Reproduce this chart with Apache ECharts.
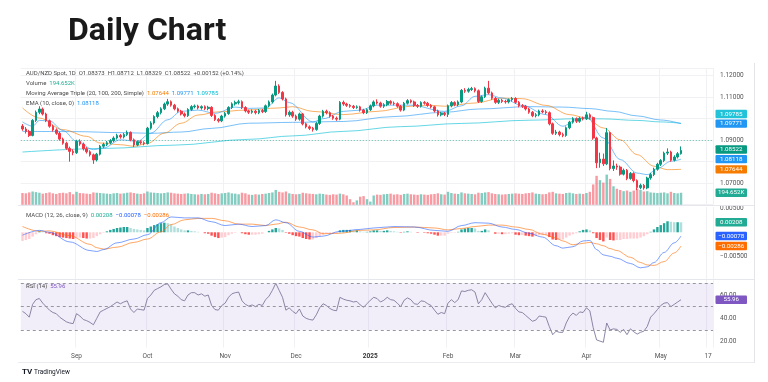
<!DOCTYPE html>
<html><head><meta charset="utf-8">
<script src="https://cdn.jsdelivr.net/npm/echarts@6/dist/echarts.min.js"></script>
<style>html,body{margin:0;padding:0;background:#fff;}#c{width:768px;height:382px;}</style>
</head><body><div id="c"></div>
<script>
// ---------------- DATA ----------------
const startDate = '2024-08-09';   // first daily candle
const slotCount = 205;            // trading-day slots incl. empty future space

const tickDates  = ['2024-09-02','2024-10-01','2024-11-01','2024-12-02','2025-01-01','2025-02-03','2025-03-03','2025-04-01','2025-05-01','2025-05-21'];
const tickLabels = ['Sep','Oct','Nov','Dec','2025','Feb','Mar','Apr','May','17'];
const priceTickLabels = [1.07, 1.09, 1.11, 1.12];
const macdTickLabels = [0.005, -0.005];
const rsiTickLabels = [20, 40, 60];

const openP = [
1.0966,1.0952,1.0940,1.0922,1.0992,1.1030,1.1045,1.1022,1.0990,1.0965,
1.0948,1.0932,1.0905,1.0886,1.0862,1.0848,1.0842,1.0895,1.0882,1.0860,
1.0846,1.0832,1.0808,1.0835,1.0872,1.0880,1.0888,1.0898,1.0910,1.0922,
1.0915,1.0926,1.0936,1.0902,1.0878,1.0893,1.0888,1.0884,1.0956,1.0980,
1.1010,1.1028,1.1046,1.1068,1.1079,1.1063,1.1046,1.1035,1.1022,1.1014,
1.1043,1.1056,1.1059,1.1050,1.1056,1.1047,1.1053,1.1015,1.0996,1.0990,
1.1012,1.1024,1.1052,1.1069,1.1075,1.1079,1.1052,1.1036,1.1030,1.1035,
1.1028,1.1038,1.1033,1.1060,1.1078,1.1110,1.1152,1.1122,1.1092,1.1018,
1.1030,1.1012,1.0998,1.1022,1.0976,1.0962,1.0955,1.0950,1.0978,1.1012,
1.1035,1.1028,1.1012,1.1002,1.0998,1.1076,1.1068,1.1062,1.1058,1.1052,
1.1055,1.1040,1.1028,1.1042,1.1060,1.1078,1.1073,1.1058,1.1065,1.1080,
1.1072,1.1070,1.1058,1.1040,1.1072,1.1084,1.1078,1.1062,1.1058,1.1075,
1.1072,1.1062,1.1055,1.1036,1.1018,1.1025,1.1020,1.1060,1.1075,1.1065,
1.1078,1.1132,1.1128,1.1136,1.1140,1.1130,1.1080,1.1102,1.1142,1.1120,
1.1095,1.1076,1.1086,1.1080,1.1078,1.1088,1.1094,1.1076,1.1060,1.1058,
1.1045,1.1030,1.1014,1.1018,1.1036,1.1032,1.1028,1.0976,1.0932,1.0938,
1.0926,1.0922,1.0958,1.0984,1.1000,1.0988,1.1002,1.1000,1.1018,1.1005,
1.0910,1.0795,1.0812,1.0790,1.0935,1.0768,1.0780,1.0775,1.0742,1.0760,
1.0722,1.0745,1.0712,1.0680,1.0690,1.0678,1.0724,1.0740,1.0765,1.0788,
1.0805,1.0840,1.0845,1.0807,1.0822,1.08373];
const closeP = [
1.0952,1.0940,1.0922,1.0992,1.1030,1.1045,1.1022,1.0990,1.0965,1.0948,
1.0932,1.0905,1.0886,1.0862,1.0848,1.0842,1.0895,1.0882,1.0860,1.0846,
1.0832,1.0808,1.0835,1.0872,1.0880,1.0888,1.0898,1.0910,1.0922,1.0915,
1.0926,1.0936,1.0902,1.0878,1.0893,1.0888,1.0884,1.0956,1.0980,1.1010,
1.1028,1.1046,1.1068,1.1079,1.1063,1.1046,1.1035,1.1022,1.1014,1.1043,
1.1056,1.1059,1.1050,1.1056,1.1047,1.1053,1.1015,1.0996,1.0990,1.1012,
1.1024,1.1052,1.1069,1.1075,1.1079,1.1052,1.1036,1.1030,1.1035,1.1028,
1.1038,1.1033,1.1060,1.1078,1.1110,1.1152,1.1122,1.1092,1.1018,1.1030,
1.1012,1.0998,1.1022,1.0976,1.0962,1.0955,1.0950,1.0978,1.1012,1.1035,
1.1028,1.1012,1.1002,1.0998,1.1076,1.1068,1.1062,1.1058,1.1052,1.1055,
1.1040,1.1028,1.1042,1.1060,1.1078,1.1073,1.1058,1.1065,1.1080,1.1072,
1.1070,1.1058,1.1040,1.1072,1.1084,1.1078,1.1062,1.1058,1.1075,1.1072,
1.1062,1.1055,1.1036,1.1018,1.1025,1.1020,1.1060,1.1075,1.1065,1.1078,
1.1132,1.1128,1.1136,1.1140,1.1130,1.1080,1.1102,1.1142,1.1120,1.1095,
1.1076,1.1086,1.1080,1.1078,1.1088,1.1094,1.1076,1.1060,1.1058,1.1045,
1.1030,1.1014,1.1018,1.1036,1.1032,1.1028,1.0976,1.0932,1.0938,1.0926,
1.0922,1.0958,1.0984,1.1000,1.0988,1.1002,1.1000,1.1018,1.1005,1.0910,
1.0795,1.0812,1.0790,1.0935,1.0768,1.0780,1.0775,1.0742,1.0760,1.0722,
1.0745,1.0712,1.0680,1.0690,1.0678,1.0724,1.0740,1.0765,1.0788,1.0805,
1.0840,1.0845,1.0807,1.0822,1.0837,1.08522];
const highP = [
1.0975,1.0961,1.0948,1.0998,1.1038,1.1058,1.1052,1.1028,1.0996,1.0972,
1.0955,1.0940,1.0912,1.0893,1.0870,1.0858,1.0902,1.0904,1.0889,1.0868,
1.0853,1.0838,1.0841,1.0878,1.0888,1.0896,1.0905,1.0918,1.0930,1.0929,
1.0934,1.0945,1.0941,1.0908,1.0899,1.0900,1.0895,1.0962,1.0988,1.1016,
1.1036,1.1053,1.1075,1.1092,1.1085,1.1069,1.1052,1.1041,1.1029,1.1049,
1.1063,1.1066,1.1065,1.1062,1.1062,1.1060,1.1058,1.1021,1.1003,1.1018,
1.1031,1.1058,1.1076,1.1084,1.1088,1.1085,1.1058,1.1042,1.1043,1.1041,
1.1045,1.1045,1.1066,1.1085,1.1117,1.1176,1.1160,1.1128,1.1098,1.1038,
1.1037,1.1019,1.1028,1.1027,1.0982,1.0969,1.0962,1.0984,1.1018,1.1041,
1.1042,1.1034,1.1018,1.1010,1.1082,1.1084,1.1074,1.1068,1.1064,1.1062,
1.1060,1.1046,1.1048,1.1066,1.1085,1.1090,1.1079,1.1072,1.1087,1.1086,
1.1080,1.1076,1.1064,1.1078,1.1091,1.1090,1.1084,1.1068,1.1081,1.1082,
1.1078,1.1068,1.1060,1.1042,1.1032,1.1031,1.1066,1.1082,1.1081,1.1085,
1.1138,1.1142,1.1144,1.1148,1.1146,1.1136,1.1108,1.1149,1.1176,1.1126,
1.1101,1.1093,1.1092,1.1088,1.1094,1.1101,1.1100,1.1082,1.1068,1.1064,
1.1051,1.1036,1.1026,1.1042,1.1044,1.1040,1.1034,1.0982,1.0948,1.0944,
1.0935,1.0964,1.0990,1.1007,1.1006,1.1009,1.1010,1.1032,1.1025,1.1010,
1.0916,1.0842,1.0838,1.0957,1.0940,1.0806,1.0791,1.0782,1.0768,1.0766,
1.0752,1.0751,1.0718,1.0698,1.0696,1.0730,1.0748,1.0772,1.0795,1.0812,
1.0847,1.0862,1.0851,1.0830,1.0845,1.08712];
const lowP = [
1.0944,1.0931,1.0915,1.0918,1.0985,1.1021,1.1015,1.0984,1.0958,1.0940,
1.0925,1.0898,1.0879,1.0855,1.0800,1.0830,1.0836,1.0874,1.0852,1.0838,
1.0824,1.0790,1.0801,1.0829,1.0864,1.0873,1.0881,1.0891,1.0903,1.0907,
1.0908,1.0919,1.0895,1.0868,1.0872,1.0880,1.0876,1.0880,1.0949,1.0973,
1.1002,1.1020,1.1040,1.1060,1.1056,1.1039,1.1028,1.1015,1.1006,1.1008,
1.1036,1.1048,1.1043,1.1042,1.1040,1.1039,1.1008,1.0989,1.0982,1.0984,
1.1005,1.1018,1.1045,1.1061,1.1066,1.1045,1.1029,1.1022,1.1023,1.1020,
1.1021,1.1026,1.1027,1.1053,1.1071,1.1104,1.1115,1.1085,1.1010,1.1009,
1.1004,1.0990,1.0991,1.0969,1.0955,1.0947,1.0940,1.0944,1.0971,1.1005,
1.1020,1.1005,1.0995,1.0990,1.0993,1.1060,1.1055,1.1051,1.1045,1.1046,
1.1033,1.1021,1.1022,1.1036,1.1053,1.1066,1.1051,1.1050,1.1058,1.1065,
1.1062,1.1051,1.1033,1.1035,1.1066,1.1071,1.1055,1.1050,1.1052,1.1065,
1.1055,1.1048,1.1029,1.1010,1.1011,1.1012,1.1008,1.1053,1.1058,1.1058,
1.1072,1.1120,1.1121,1.1129,1.1122,1.1073,1.1074,1.1096,1.1113,1.1088,
1.1069,1.1068,1.1073,1.1070,1.1071,1.1080,1.1069,1.1053,1.1050,1.1038,
1.1023,1.1007,1.1006,1.1011,1.1025,1.1020,1.0969,1.0925,1.0924,1.0918,
1.0914,1.0916,1.0951,1.0977,1.0980,1.0981,1.0992,1.0994,1.0996,1.0902,
1.0770,1.0772,1.0780,1.0784,1.0760,1.0757,1.0762,1.0735,1.0736,1.0714,
1.0716,1.0704,1.0668,1.0672,1.0670,1.0672,1.0716,1.0733,1.0758,1.0780,
1.0798,1.0831,1.0800,1.0801,1.0815,1.08329];
const volumeK = [
190,185,200,215,205,195,180,190,200,185,
175,190,195,185,205,170,210,190,185,180,
175,200,195,190,185,180,175,185,190,180,
185,195,200,190,180,175,185,215,200,195,
190,185,190,200,195,185,180,175,180,185,
175,170,165,175,170,175,195,185,175,185,
190,200,185,180,170,195,185,165,160,170,
165,175,180,190,200,240,210,200,215,185,
175,170,175,195,185,180,175,170,180,175,
165,160,170,165,180,170,150,90,40,70,
130,140,90,50,150,165,160,170,175,180,
165,170,160,175,180,170,165,160,170,165,
160,170,175,185,170,165,210,190,180,175,
200,185,180,175,170,195,190,200,205,185,
175,170,165,170,175,180,185,180,175,185,
190,200,180,175,170,175,200,210,185,180,
175,190,195,185,175,180,175,190,210,330,
470,400,360,490,420,300,260,240,220,230,
210,230,260,240,215,220,200,195,190,195,
200,185,210,190,185,194.652];

// moving averages: [day index, value]
const sma20 = [[0,1.1050],[5,1.1003],[12,1.0949],[19,1.0918],[23,1.0887],[29,1.0879],[33,1.0872],[37,1.0885],[42,1.0933],[47,1.0979],[52,1.1017],[58,1.1032],[66,1.1040],[76,1.1050],[80,1.1056],[86,1.1034],[95,1.1019],[105,1.1034],[115,1.1058],[121,1.1062],[125,1.1058],[134,1.1073],[142,1.1096],[148,1.1093],[155,1.1062],[162,1.1019],[167,1.1003],[172,1.0957],[177,1.0902],[182,1.0833],[187,1.0779],[191,1.0763],[195,1.07644]];
const sma100 = [[0,1.0941],[15,1.0940],[30,1.0935],[38,1.0932],[47,1.0938],[56,1.0955],[67,1.0979],[80,1.0983],[95,1.0987],[110,1.1010],[125,1.1030],[135,1.1045],[150,1.1056],[160,1.1054],[168,1.1047],[175,1.1034],[182,1.1013],[189,1.0994],[195,1.09771]];
const sma200 = [[0,1.0845],[25,1.0862],[45,1.0877],[67,1.0904],[80,1.0920],[95,1.0941],[112,1.0963],[130,1.0978],[150,1.0993],[165,1.1000],[172,1.0999],[182,1.0992],[189,1.0985],[195,1.09785]];
const ema10 = [[0,1.0985],[3,1.0965],[5,1.0992],[8,1.0990],[12,1.0945],[16,1.0895],[21,1.0856],[24,1.0864],[29,1.0902],[34,1.0895],[38,1.0933],[43,1.0995],[47,1.1034],[52,1.1040],[57,1.1025],[63,1.1054],[67,1.1048],[72,1.1050],[76,1.1097],[79,1.1075],[86,1.0985],[89,1.1000],[95,1.1034],[100,1.1040],[105,1.1063],[115,1.1063],[125,1.1034],[130,1.1060],[134,1.1104],[138,1.1112],[142,1.1096],[148,1.1062],[155,1.1019],[160,1.0965],[164,1.0995],[167,1.1008],[172,1.0910],[177,1.0810],[182,1.0747],[185,1.0740],[188,1.0768],[192,1.0802],[195,1.08118]];

const macdHist = [
-0.0018,-0.0016,-0.0014,-0.0009,-0.0004,0.0002,0.0001,-0.0002,-0.0003,-0.0006,
-0.0008,-0.0010,-0.0011,-0.0012,-0.0013,-0.0014,-0.0011,-0.0011,-0.0012,-0.0013,
-0.0013,-0.0012,-0.0008,-0.0004,-0.0001,0.0002,0.0005,0.0007,0.0009,0.0010,
0.0011,0.0011,0.0009,0.0007,0.0006,0.0005,0.0004,0.0009,0.0012,0.0015,
0.0017,0.0019,0.0020,0.0019,0.0016,0.0012,0.0009,0.0006,0.0004,0.0004,
0.0003,0.0002,0.0001,0.0000,-0.0002,-0.0003,-0.0007,-0.0010,-0.0012,-0.0011,
-0.0010,-0.0006,-0.0003,-0.0001,0.0000,-0.0002,-0.0004,-0.0005,-0.0005,-0.0005,
-0.0004,-0.0003,0.0000,0.0003,0.0006,0.0009,0.0008,0.0005,-0.0001,-0.0003,
-0.0006,-0.0008,-0.0009,-0.0012,-0.0014,-0.0015,-0.0015,-0.0012,-0.0008,-0.0005,
-0.0003,-0.0003,-0.0002,-0.0002,0.0004,0.0005,0.0005,0.0005,0.0004,0.0004,
0.0002,0.0001,0.0001,0.0002,0.0004,0.0004,0.0003,0.0003,0.0004,0.0003,
0.0002,0.0001,-0.0001,0.0001,0.0002,0.0001,0.0000,-0.0001,0.0000,-0.0001,
-0.0002,-0.0003,-0.0005,-0.0007,-0.0007,-0.0007,-0.0003,-0.0001,-0.0001,0.0001,
0.0006,0.0008,0.0009,0.0009,0.0008,0.0003,0.0003,0.0006,0.0004,0.0000,
-0.0003,-0.0003,-0.0004,-0.0004,-0.0003,-0.0002,-0.0005,-0.0006,-0.0006,-0.0007,
-0.0008,-0.0009,-0.0008,-0.0006,-0.0006,-0.0006,-0.0010,-0.0015,-0.0016,-0.0016,
-0.0015,-0.0011,-0.0007,-0.0004,-0.0002,0.0002,0.0005,0.0006,0.0004,-0.0002,
-0.0012,-0.0016,-0.0019,-0.0011,-0.0016,-0.0017,-0.0016,-0.0016,-0.0014,-0.0014,
-0.0013,-0.0013,-0.0013,-0.0011,-0.0008,-0.0004,0.0001,0.0006,0.0011,0.0015,
0.0019,0.0023,0.0022,0.0021,0.0021,0.00208];
const macdLine = [[0,-0.0006],[5,0.0004],[8,0.0000],[14,-0.0020],[20,-0.0038],[22,-0.0040],[24,-0.0036],[28,-0.0022],[33,-0.0014],[37,-0.0005],[41,0.0020],[44,0.0032],[48,0.0030],[52,0.0030],[56,0.0022],[60,0.0014],[64,0.0017],[68,0.0012],[72,0.0014],[75,0.0026],[78,0.0020],[82,0.0002],[86,-0.0010],[89,-0.0008],[94,0.0002],[100,0.0006],[104,0.0009],[110,0.0012],[116,0.0011],[122,0.0004],[126,0.0002],[130,0.0014],[134,0.0020],[138,0.0019],[142,0.0011],[146,0.0006],[150,-0.0002],[154,-0.0010],[158,-0.0028],[160,-0.0033],[163,-0.0030],[166,-0.0018],[168,-0.0017],[170,-0.0036],[172,-0.0047],[174,-0.0050],[176,-0.0054],[180,-0.0065],[183,-0.0074],[185,-0.0072],[187,-0.0063],[190,-0.0042],[193,-0.0022],[195,-0.00078]];
const signalLine = [[0,0.0012],[5,0.0002],[8,0.0003],[14,-0.0007],[20,-0.0025],[22,-0.0032],[24,-0.0035],[28,-0.0031],[33,-0.0021],[37,-0.0014],[41,0.0001],[44,0.0016],[48,0.0026],[52,0.0029],[56,0.0029],[60,0.0024],[64,0.0017],[68,0.0017],[72,0.0014],[75,0.0017],[78,0.0021],[82,0.0011],[86,0.0005],[89,-0.0003],[94,-0.0002],[100,0.0004],[104,0.0005],[110,0.0010],[116,0.0011],[122,0.0009],[126,0.0005],[130,0.0008],[134,0.0012],[138,0.0015],[142,0.0015],[146,0.0011],[150,0.0006],[154,-0.0004],[158,-0.0012],[160,-0.0018],[163,-0.0026],[166,-0.0023],[168,-0.0021],[170,-0.0024],[172,-0.0028],[174,-0.0034],[176,-0.0038],[180,-0.0052],[183,-0.0063],[185,-0.0068],[187,-0.0069],[190,-0.0061],[193,-0.0043],[195,-0.00286]];

const rsi14 = [
46,44,41,52,56,57,53,50,47,45,
44,41,39,37,36,35.5,44,42,39,38,
36.5,34.5,40,45.5,47,48.5,50,52,54,52.5,
54,55,48,45,48,47.5,47,57,60,64,
65.5,67,69,69.5,65,61,59,56,55,60,
62,62,60,61,59,60,51,47.5,47,51,
53,58,61,62,62.5,55,52,50.5,51.5,50,
52,51,56,59,64,70,64,58,47,49,
46,44,48,42,40,39,38.5,43,49,52.5,
51,48.5,47,46.5,58,56.5,55.5,55,54,54.5,
51.5,49.5,52.5,55.5,58,57,54,55.5,58,56,
55.5,53,50,55.5,57.5,56,52.5,52,55,54.5,
52.5,51,47,43.5,45,44,53,56,53.5,56,
63.5,63,64,64.5,62.5,52.5,56,62,57.5,53,
49,51,50,49.5,51.5,52.5,48.5,45.5,45,42.5,
40,37.5,38.5,42,41.5,41,33,26,29,28,
28,36,41.5,44.5,42.5,45.5,45,49,46.5,32,
21.5,20.5,19.5,36,30,31,30.5,28,30.5,26,
31,28.5,26.5,28,29,33,41,44,47.5,51,
53,53.5,50,52,54,55.96];

// ---------------- STYLE ----------------
const UP = '#089981', DN = '#F23645';
const VOL_UP = 'rgba(8,153,129,0.5)', VOL_DN = 'rgba(242,54,69,0.5)';
const C_SMA20 = '#F57C00', C_SMA100 = '#2196F3', C_SMA200 = '#00BCD4', C_EMA = '#2196F3';
const C_MACD = '#2962FF', C_SIG = '#FF6D00', C_HIST = '#22AB94', C_RSI = '#7E57C2';
const FONT = 'Roboto, Arial, sans-serif';
const TXT = '#4a4a4a', AX = '#555';
const GL = 20.8, GR = 54.9;

function buildDates(start, n) {
  const out = []; const d = new Date(start + 'T00:00:00Z');
  while (out.length < n) {
    const wd = d.getUTCDay();
    if (wd !== 0 && wd !== 6) out.push(d.toISOString().slice(0, 10));
    d.setUTCDate(d.getUTCDate() + 1);
  }
  return out;
}
const dates = buildDates(startDate, slotCount);
const last = closeP.length - 1;

const candleData = closeP.map((c, i) => [openP[i], c, lowP[i], highP[i]]);
const volData = volumeK.map((v, i) => ({ value: v, itemStyle: { color: closeP[i] >= openP[i] ? VOL_UP : VOL_DN } }));
const histData = macdHist.map((h, i) => {
  const p = i > 0 ? macdHist[i - 1] : h;
  let col;
  if (h >= 0) col = h >= p ? '#26A69A' : '#B2DFDB';
  else col = h < p ? '#FF5252' : '#FFCDD2';
  return { value: h, itemStyle: { color: col } };
});

const isTick = (v) => tickDates.indexOf(v) >= 0;
function xAxisFor(k) {
  return {
    type: 'category', gridIndex: k, data: dates, boundaryGap: true,
    axisLine: { show: false }, axisTick: { show: false },
    axisLabel: k === 3 ? {
      show: true, interval: (idx, val) => isTick(val), color: AX, fontSize: 6.5, fontFamily: FONT, margin: 5,
      formatter: (val) => { const t = tickLabels[tickDates.indexOf(val)]; return t === '2025' ? '{b|' + t + '}' : t; },
      rich: { b: { fontWeight: 'bold', fontSize: 6.5, color: '#333', fontFamily: FONT } }
    } : { show: false },
    splitLine: { show: k !== 1, interval: (idx, val) => isTick(val), lineStyle: { color: '#f1f1f4', width: 1 } }
  };
}
const near = (arr, v) => arr.some(t => Math.abs(t - v) < 1e-7);

const lineSeries = (name, data, color, xi, yi, op) => ({
  name, type: 'line', xAxisIndex: xi, yAxisIndex: yi, data, symbol: 'none', smooth: 0.35, smoothMonotone: 'x',
  lineStyle: { color, width: 1, opacity: op }, silent: true, z: 3
});

const chart = echarts.init(document.getElementById('c'), null, { renderer: 'canvas' });
chart.setOption({
  animation: false,
  backgroundColor: '#ffffff',
  textStyle: { fontFamily: FONT },
  grid: [
    { left: GL, right: GR, top: 68, height: 136.7 },
    { left: GL, right: GR, top: 170, height: 34.7 },
    { left: GL, right: GR, top: 207, height: 73.3 },
    { left: GL, right: GR, top: 280, height: 67.5 }
  ],
  xAxis: [xAxisFor(0), xAxisFor(1), xAxisFor(2), xAxisFor(3)],
  yAxis: [
    { gridIndex: 0, position: 'right', min: 1.06, max: 1.12358, interval: 0.01,
      axisLine: { show: false }, axisTick: { show: false },
      axisLabel: { color: AX, fontSize: 6.5, fontFamily: FONT, margin: 7, formatter: v => near(priceTickLabels, v) ? v.toFixed(5) : '' },
      splitLine: { show: true, lineStyle: { color: '#f1f1f4' } } },
    { gridIndex: 1, min: 0, max: 565, show: false },
    { gridIndex: 2, position: 'right', min: -0.01, max: 0.00527, interval: 0.005,
      axisLine: { show: false }, axisTick: { show: false },
      axisLabel: { color: AX, fontSize: 6.5, fontFamily: FONT, margin: 7, formatter: v => near(macdTickLabels, v) ? v.toFixed(5).replace('-', '\u2212') : '' },
      splitLine: { show: false } },
    { gridIndex: 3, position: 'right', min: 15, max: 72.86, interval: 5,
      axisLine: { show: false }, axisTick: { show: false },
      axisLabel: { color: AX, fontSize: 6.5, fontFamily: FONT, margin: 7, formatter: v => near(rsiTickLabels, v) ? v.toFixed(2) : '' },
      splitLine: { show: false } }
  ],
  series: [
    { name: 'Volume', type: 'bar', xAxisIndex: 1, yAxisIndex: 1, data: volData, barWidth: '72%', silent: true, z: 1 },
    { name: 'AUD/NZD', type: 'candlestick', xAxisIndex: 0, yAxisIndex: 0, data: candleData, barWidth: '62%', silent: true, z: 4,
      itemStyle: { color: UP, color0: DN, borderColor: UP, borderColor0: DN, borderWidth: 1 },
      markLine: { silent: true, symbol: ['none', 'none'], label: { show: false },
        lineStyle: { color: UP, type: [1, 2], width: 1, opacity: 0.6 },
        data: [{ yAxis: closeP[last] }] } },
    lineSeries('SMA200', sma200, C_SMA200, 0, 0, 0.6),
    lineSeries('SMA100', sma100, C_SMA100, 0, 0, 0.6),
    lineSeries('SMA20', sma20, C_SMA20, 0, 0, 0.6),
    lineSeries('EMA10', ema10, C_EMA, 0, 0, 0.6),
    { name: 'Hist', type: 'bar', xAxisIndex: 2, yAxisIndex: 2, data: histData, barWidth: '72%', silent: true, z: 1 },
    lineSeries('Signal', signalLine, C_SIG, 2, 2, 0.6),
    lineSeries('MACD', macdLine, C_MACD, 2, 2, 0.6),
    { name: 'RSI', type: 'line', xAxisIndex: 3, yAxisIndex: 3, data: rsi14, symbol: 'none', silent: true, z: 3,
      lineStyle: { color: '#7a7196', width: 1, opacity: 0.85 },
      markArea: { silent: true, itemStyle: { color: 'rgba(126,87,194,0.1)' }, data: [[{ yAxis: 30 }, { yAxis: 70 }]] },
      markLine: { silent: true, symbol: ['none', 'none'], label: { show: false },
        lineStyle: { color: '#9598a1', type: [3, 3], width: 1 },
        data: [{ yAxis: 70 }, { yAxis: 50 }, { yAxis: 30 }] } }
  ]
});

// ---------------- overlay texts & value boxes ----------------
const LEG = '6px ' + FONT;
const ctx = document.createElement('canvas').getContext('2d');
function tw(t, font) { ctx.font = font; return ctx.measureText(t).width; }
function row(x, y, parts) {
  const els = []; let cx = x;
  parts.forEach(([t, c]) => {
    els.push({ type: 'text', silent: true, x: cx, y: y, z: 100,
      style: { text: t, fill: c, font: LEG, textVerticalAlign: 'middle', verticalAlign: 'middle' } });
    cx += tw(t, LEG);
  });
  return els;
}
const f5 = v => v.toFixed(5);
const chg = closeP[last] - closeP[last - 1];
const lastOf = a => a[a.length - 1][1];

const g = [];
g.push({ type: 'text', silent: true, x: 68, y: 32, style: { text: 'Daily Chart', font: 'bold 32px ' + FONT, fill: '#1a1a1a', textVerticalAlign: 'middle', verticalAlign: 'middle' } });
g.push(...row(26, 73.5, [['AUD/NZD Spot, 1D  ', TXT], ['O', TXT], [f5(openP[last]) + '  ', TXT], ['H', TXT], [f5(highP[last]) + '  ', TXT], ['L', TXT], [f5(lowP[last]) + '  ', TXT], ['C', TXT], [f5(closeP[last]) + '  ', TXT], ['+' + f5(chg) + ' (+' + (chg / closeP[last - 1] * 100).toFixed(2) + '%)', TXT]]));
g.push(...row(26, 83.5, [['Volume  ', TXT], [volumeK[last].toFixed(3) + 'K', C_HIST]]));
g.push(...row(26, 93.3, [['Moving Average Triple (20, 100, 200, Simple)  ', TXT], [f5(lastOf(sma20)) + '  ', C_SMA20], [f5(lastOf(sma100)) + '  ', C_SMA100], [f5(lastOf(sma200)), C_SMA200]]));
g.push(...row(26, 103, [['EMA (10, close, 0)  ', TXT], [f5(lastOf(ema10)), C_EMA]]));
g.push(...row(26, 215, [['MACD (12, 26, close, 9)  ', TXT], [f5(macdHist[last]) + '  ', C_HIST], [f5(lastOf(macdLine)).replace('-', '\u2212') + '  ', C_MACD], [f5(lastOf(signalLine)).replace('-', '\u2212'), C_SIG]]));
g.push(...row(26, 286.5, [['RSI (14)  ', TXT], [rsi14[last].toFixed(2), C_RSI]]));

// value boxes on the right scale
function boxes(items, yi) {
  const arr = items.map(([v, txt, col]) => ({ y: chart.convertToPixel({ yAxisIndex: yi }, v), txt, col }));
  arr.sort((a, b) => a.y - b.y);
  for (let i = arr.length - 2; i >= 0; i--) {
    if (arr[i + 1].y - arr[i].y < 9.6) arr[i].y = arr[i + 1].y - 9.6;
  }
  arr.forEach(b => {
    g.push({ type: 'rect', silent: true, z: 101, shape: { x: 715.5, y: b.y - 4.2, width: 31.5, height: 8.4, r: 1 }, style: { fill: b.col } });
    g.push({ type: 'text', silent: true, z: 102, x: 731.2, y: b.y, style: { text: b.txt, fill: '#ffffff', font: '6.2px ' + FONT, textAlign: 'center', align: 'center', textVerticalAlign: 'middle', verticalAlign: 'middle' } });
  });
}
boxes([[lastOf(sma200), f5(lastOf(sma200)), '#22C3D8'], [lastOf(sma100), f5(lastOf(sma100)), C_SMA100],
       [closeP[last], f5(closeP[last]), UP], [lastOf(ema10), f5(lastOf(ema10)), C_EMA], [lastOf(sma20), f5(lastOf(sma20)), C_SMA20]], 0);
boxes([[volumeK[last], volumeK[last].toFixed(3) + 'K', C_HIST]], 1);
boxes([[macdHist[last], f5(macdHist[last]), C_HIST], [lastOf(macdLine), f5(lastOf(macdLine)).replace('-', '\u2212'), C_MACD], [lastOf(signalLine), f5(lastOf(signalLine)).replace('-', '\u2212'), C_SIG]], 2);
boxes([[rsi14[last], rsi14[last].toFixed(2), C_RSI]], 3);

// pane separators, frame, branding
const sep = (x1, y1, x2, y2, c) => ({ type: 'line', silent: true, z: 50, shape: { x1, y1, x2, y2 }, style: { stroke: c, lineWidth: 1 } });
g.push(sep(18, 205.5, 754, 205.5, '#e6e7ec'));
g.push(sep(18, 279.5, 754, 279.5, '#e6e7ec'));
g.push(sep(18, 362.5, 754, 362.5, '#ececf0'));
g.push(sep(754.5, 63, 754.5, 363, '#e4e4e8'));
g.push({ type: 'text', silent: true, x: 22, y: 372, style: { text: 'TV', font: 'bold 8px ' + FONT, fill: '#131722', textVerticalAlign: 'middle', verticalAlign: 'middle' } });
g.push({ type: 'text', silent: true, x: 34, y: 372, style: { text: 'TradingView', font: '6.5px ' + FONT, fill: '#131722', textVerticalAlign: 'middle', verticalAlign: 'middle' } });

chart.setOption({ graphic: g });
</script>
</body></html>
